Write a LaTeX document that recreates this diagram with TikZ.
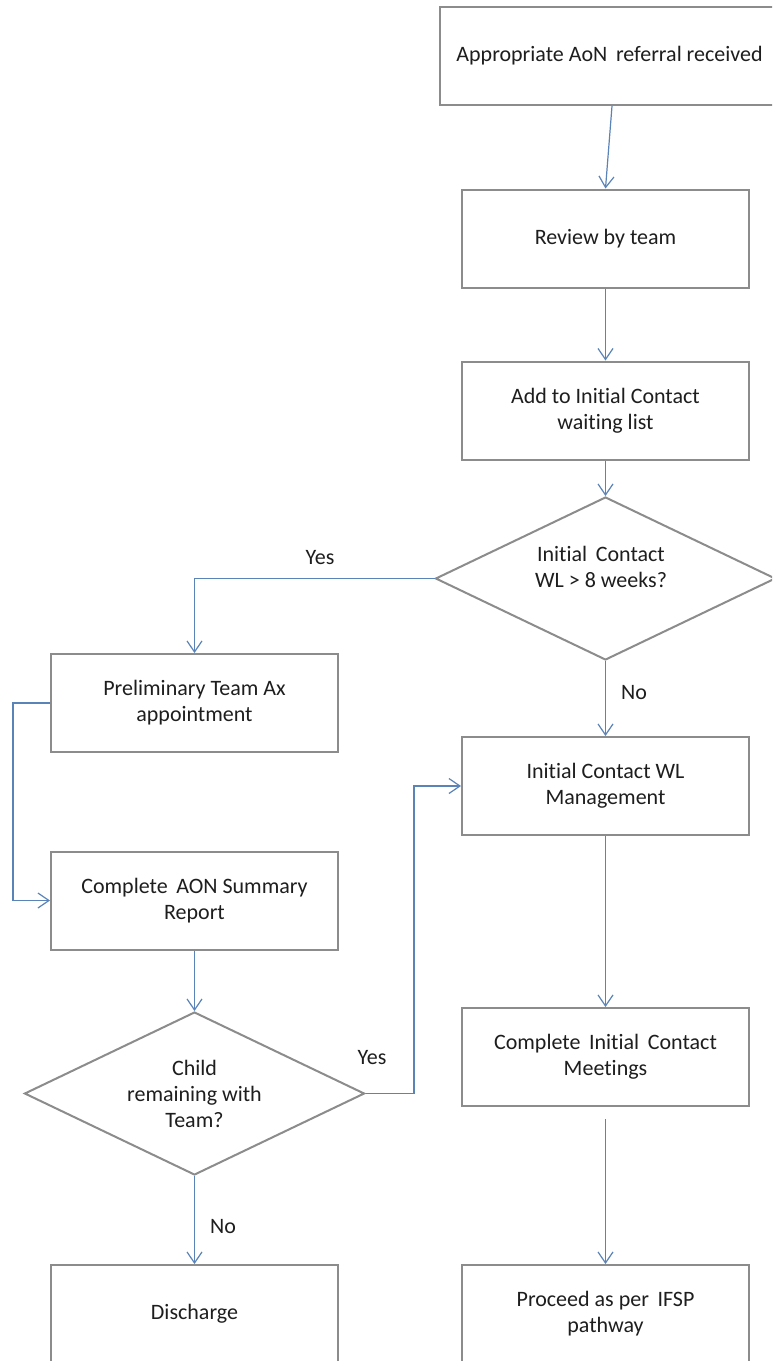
\documentclass[tikz,border=0pt]{standalone}
\usepackage{fontspec}
\setmainfont{Carlito}[Ligatures=NoCommon]
\usetikzlibrary{arrows.meta,shapes.geometric}
\definecolor{boxgray}{HTML}{8C8C8C}
\definecolor{arrblue}{HTML}{5A84B8}
\definecolor{txtcol}{HTML}{1E1E1E}
\tikzset{
  box/.style={draw=boxgray,line width=2pt,minimum width=287pt,minimum height=98pt,inner sep=0pt,align=center,text=txtcol},
  dia/.style={draw=boxgray,line width=2pt,shape=diamond,aspect=2,inner sep=0pt,minimum width=340pt,minimum height=163pt,align=center,text=txtcol},
  arr/.style={draw=arrblue,line width=1.2pt,-{Straight Barb[length=11pt,width=15pt]}},
  lbl/.style={inner sep=0pt,text=txtcol},
  dtext/.style={inner sep=0pt,align=center,text=txtcol}
}
\begin{document}
\begin{tikzpicture}[x=1pt,y=-1pt,font=\fontsize{22}{26}\selectfont]
\useasboundingbox (0,0) rectangle (772,1361);
\clip (0,0) rectangle (772,1361);
\fill[white] (0,0) rectangle (772,1361);

% right column
\node[box,minimum width=339pt] (top) at (609.5,56) {Appropriate AoN\, referral received};
\node[box] (review) at (605.5,238.5) {Review by team};
\node[box] (add) at (605.5,410.5) {Add to Initial Contact\\waiting list};
\node[dia] (d1) at (605.5,578.5) {};
\node[dtext] (d1t) at (601,567) {Initial\, Contact\\WL > 8 weeks?};
\node[box] (wl) at (605.5,786) {Initial Contact WL\\Management};
\node[box] (cic) at (605.5,1057) {Complete\, Initial\, Contact\\Meetings};
\node[box] (ifsp) at (605.5,1314) {Proceed as per\, IFSP\\pathway};

% left column
\node[box] (prelim) at (194.5,703) {Preliminary Team Ax\\appointment};
\node[box] (aon) at (194.5,900.5) {Complete\, AON Summary\\Report};
\node[dia] (d2) at (194.5,1093.5) {Child\\remaining with\\Team?};
\node[box] (dis) at (194.5,1314) {Discharge};

% labels
\node[lbl] (yes1) at (320,558) {Yes};
\node[lbl] (no1) at (634,693) {No};
\node[lbl] (yes2) at (372,1058) {Yes};
\node[lbl] (no2) at (223,1227) {No};

% connectors
\draw[arr] ([xshift=2.5pt]top.south) -- (review.north);
\draw[arr] (review.south) -- (add.north);
\draw[arr] (add.south) -- (d1.north);
\draw[arr] (d1.west) -| (prelim.north);
\draw[arr] (d1.south) -- (wl.north);
\coordinate (lp) at (13,703);
\draw[arr] (prelim.west) -- (lp) |- (aon.west);
\draw[arr] (aon.south) -- (d2.north);
\coordinate (rp) at (414,1093.5);
\draw[arr] (d2.east) -- (rp) |- (wl.west);
\draw[arr] (d2.south) -- (dis.north);
\draw[arr] (wl.south) -- (cic.north);
\draw[arr] ([yshift=-12pt]cic.south) -- (ifsp.north);
\end{tikzpicture}
\end{document}
